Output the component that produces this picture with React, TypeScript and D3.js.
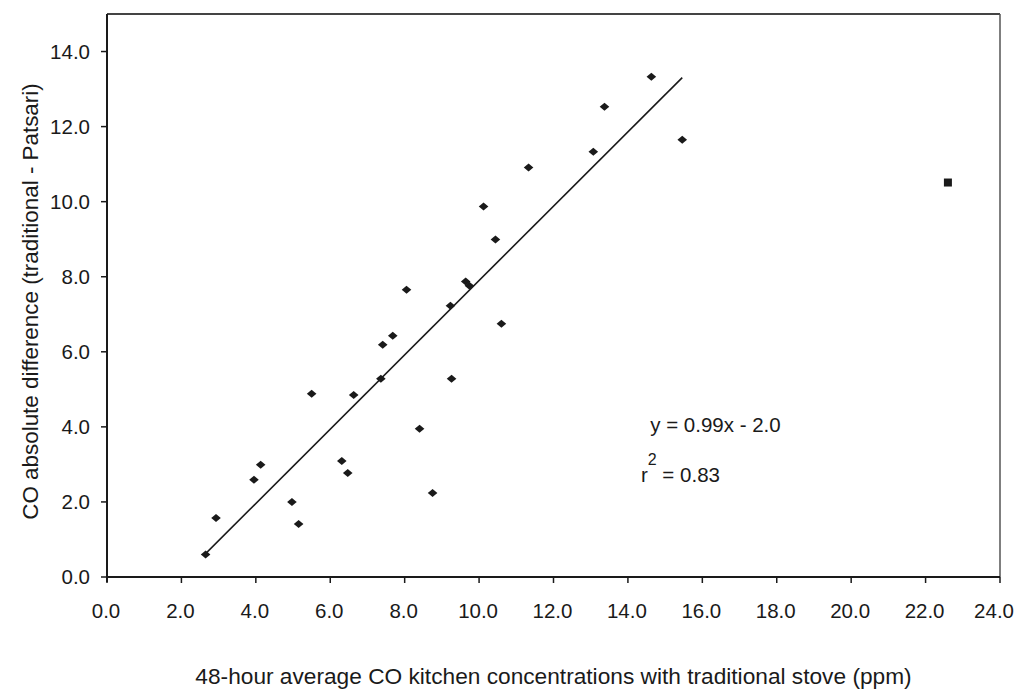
import React from "react";
import * as d3 from "d3";

// 48-h average CO with traditional stove (ppm)
const stoveCO = [
  2.65, 2.93, 3.95, 4.13, 4.97, 5.15, 5.5, 6.31, 6.47, 6.63, 7.36, 7.41, 7.68,
  8.05, 8.4, 8.75, 9.23, 9.26, 9.64, 9.74, 10.12, 10.44, 10.6, 11.33, 13.07,
  13.37, 14.63, 15.46,
];
// absolute difference traditional - Patsari
const coDiff = [
  0.6, 1.57, 2.59, 2.99, 2.0, 1.41, 4.88, 3.09, 2.77, 4.85, 5.28, 6.19, 6.43,
  7.65, 3.95, 2.24, 7.23, 5.28, 7.87, 7.76, 9.87, 8.99, 6.75, 10.91, 11.33,
  12.53, 13.33, 11.65,
];
// outlier, not in the fit
const outlierX = [22.6];
const outlierY = [10.51];

const fitSlope = 0.99;
const fitIntercept = -2.0;
const xTicks = [0, 2, 4, 6, 8, 10, 12, 14, 16, 18, 20, 22, 24];
const yTicks = [0, 2, 4, 6, 8, 10, 12, 14];

const width = 1018,
  height = 692;
const margin = { top: 14, right: 18, bottom: 115, left: 107 };

const App = () => {
  const x = d3
    .scaleLinear()
    .domain([0, 24])
    .range([margin.left, width - margin.right]);
  const y = d3
    .scaleLinear()
    .domain([0, 15])
    .range([height - margin.bottom, margin.top]);

  const fmt = d3.format(".1f");
  const ink = "#1a1a1a";
  const font = "'Liberation Sans', Arial, sans-serif";

  const [xmin, xmax] = d3.extent(stoveCO) as [number, number];
  const line = d3
    .line<number>()
    .x((d) => x(d))
    .y((d) => y(fitSlope * d + fitIntercept));

  const diamond = "M-4.8,0L0,-4L4.8,0L0,4Z";

  const x0 = x(0),
    y0 = y(0);

  return (
    <svg
      width={width}
      height={height}
      style={{ position: "absolute", left: 0, top: 0, background: "#fff" }}
      fontFamily={font}
    >
      {/* frame */}
      <line x1={x(0)} x2={x(24)} y1={y(15)} y2={y(15)} stroke="#444" strokeWidth={2} />
      <line x1={x(24)} x2={x(24)} y1={y(15)} y2={y0} stroke="#555" strokeWidth={1.5} />

      {/* y axis */}
      <line x1={x0} x2={x0} y1={y(15)} y2={y0 + 5} stroke={ink} strokeWidth={2} />
      {yTicks.map((t) => (
        <g key={"y" + t}>
          <line x1={x0 - 6} x2={x0} y1={y(t)} y2={y(t)} stroke={ink} strokeWidth={1.5} />
          <text
            x={x0 - 17}
            y={y(t)}
            dy="0.36em"
            textAnchor="end"
            fontSize={20.5}
            fill={ink}
          >
            {fmt(t)}
          </text>
        </g>
      ))}

      {/* x axis */}
      <line x1={x0} x2={x(24)} y1={y0} y2={y0} stroke={ink} strokeWidth={2} />
      {xTicks.map((t, i) => {
        const last = i === xTicks.length - 1;
        return (
          <g key={"x" + t}>
            <line x1={x(t)} x2={x(t)} y1={y0} y2={y0 + 6} stroke={ink} strokeWidth={1.5} />
            <text
              x={last ? width - 4 : x(t) - 1}
              y={y0 + 41}
              textAnchor={last ? "end" : "middle"}
              fontSize={20.5}
              fill={ink}
            >
              {fmt(t)}
            </text>
          </g>
        );
      })}

      {/* regression line */}
      <path d={line([xmin, xmax]) || ""} fill="none" stroke={ink} strokeWidth={1.6} />

      {/* points */}
      {stoveCO.map((v, i) => (
        <path
          key={"p" + i}
          d={diamond}
          transform={`translate(${x(v)},${y(coDiff[i])})`}
          fill={ink}
        />
      ))}
      {outlierX.map((v, i) => (
        <rect
          key={"o" + i}
          x={x(v) - 4}
          y={y(outlierY[i]) - 4}
          width={8}
          height={8}
          fill={ink}
        />
      ))}

      {/* equation */}
      <text x={x(14.6)} y={y(3.87)} fontSize={20.5} fill={ink}>
        y = 0.99x - 2.0
      </text>
      <text x={x(14.35)} y={y(2.53)} fontSize={20.5} fill={ink}>
        r<tspan dy={-17} fontSize={16}>2</tspan>
        <tspan dy={17}> = 0.83</tspan>
      </text>

      {/* axis titles */}
      <text
        x={(x(0) + x(24)) / 2}
        y={height - 8}
        textAnchor="middle"
        fontSize={22.7}
        fill={ink}
      >
        48-hour average CO kitchen concentrations with traditional stove (ppm)
      </text>
      <text
        transform={`translate(38,${(y(0) + y(15)) / 2 + 6}) rotate(-90)`}
        textAnchor="middle"
        fontSize={22.4}
        fill={ink}
      >
        CO absolute difference (traditional - Patsari)
      </text>
    </svg>
  );
};

export default App;
